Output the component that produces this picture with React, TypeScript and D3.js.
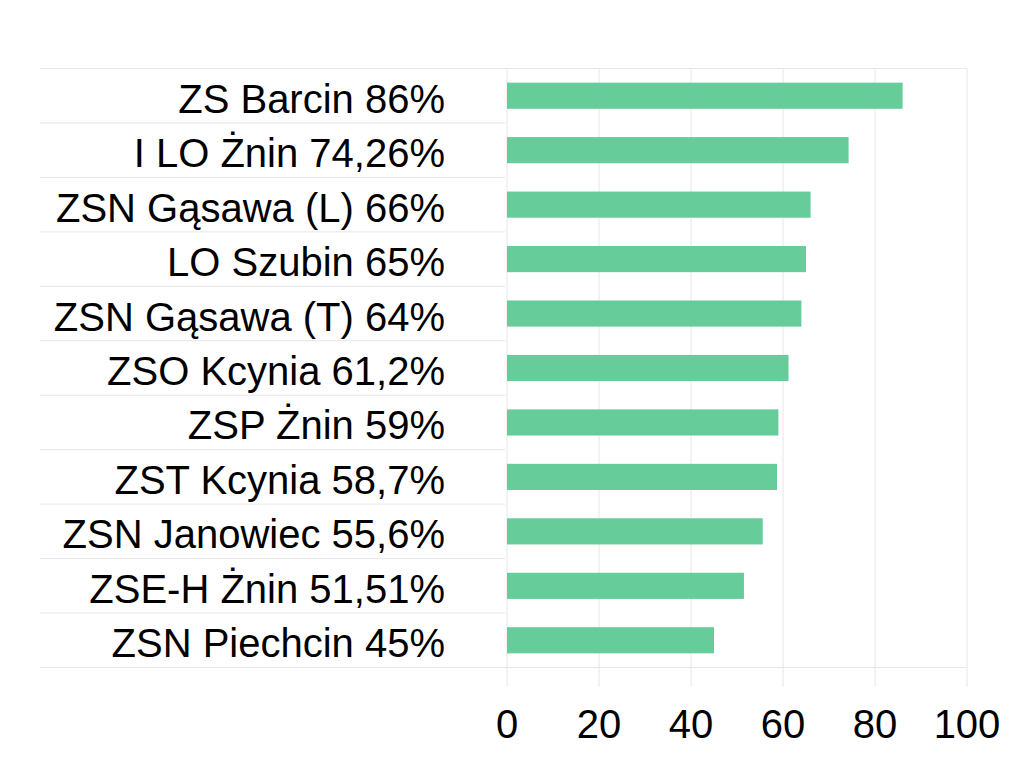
import React from "react";
import * as d3 from "d3";

const categories = [
  "ZS Barcin 86%",
  "I LO Żnin 74,26%",
  "ZSN Gąsawa (L) 66%",
  "LO Szubin 65%",
  "ZSN Gąsawa (T) 64%",
  "ZSO Kcynia 61,2%",
  "ZSP Żnin 59%",
  "ZST Kcynia 58,7%",
  "ZSN Janowiec 55,6%",
  "ZSE-H Żnin 51,51%",
  "ZSN Piechcin 45%",
];
const values = [86, 74.26, 66, 65, 64, 61.2, 59, 58.7, 55.6, 51.51, 45];
const ticks = [0, 20, 40, 60, 80, 100];

const W = 1021;
const H = 772;
const left = 507;
const right = 967;
const top = 68.5;
const bottom = 667.5;
const lineLeft = 40;
const grid = "#e6e6e6";
const barColor = "#66CC99";
const font = "'Liberation Sans', Arial, sans-serif";

export default function App() {
  const x = d3.scaleLinear().domain([0, 100]).range([left, right]);
  const y = d3.scaleBand<string>().domain(categories).range([top, bottom]).paddingInner(0.52).paddingOuter(0.26);
  const band = d3.scaleBand<string>().domain(categories).range([top, bottom]);
  return (
    <svg
      width={W}
      height={H}
      style={{ position: "absolute", left: 0, top: 0, background: "#fff" }}
    >
      {ticks.map((t) => (
        <line key={"g" + t} x1={x(t)} x2={x(t)} y1={top} y2={687} stroke={grid} strokeWidth={1} />
      ))}
      <line x1={lineLeft} x2={right} y1={top} y2={top} stroke={grid} strokeWidth={1} />
      <line x1={lineLeft} x2={right} y1={bottom} y2={bottom} stroke={grid} strokeWidth={1} />
      {categories.slice(1).map((c) => (
        <line
          key={"s" + c}
          x1={lineLeft}
          x2={left - 2}
          y1={band(c)!}
          y2={band(c)!}
          stroke={grid}
          strokeWidth={1}
        />
      ))}
      {categories.map((c, i) => (
        <rect
          key={"b" + c}
          x={x(0)}
          y={y(c)!}
          width={x(values[i]) - x(0)}
          height={y.bandwidth()}
          fill={barColor}
        />
      ))}
      {categories.map((c) => (
        <text
          key={"l" + c}
          x={445}
          y={band(c)! + band.bandwidth() / 2 + 17}
          textAnchor="end"
          fontFamily={font}
          fontSize={40}
          fill="#000"
        >
          {c}
        </text>
      ))}
      {ticks.map((t) => (
        <text
          key={"t" + t}
          x={x(t)}
          y={738}
          textAnchor="middle"
          fontFamily={font}
          fontSize={40}
          fill="#000"
        >
          {t}
        </text>
      ))}
    </svg>
  );
}
